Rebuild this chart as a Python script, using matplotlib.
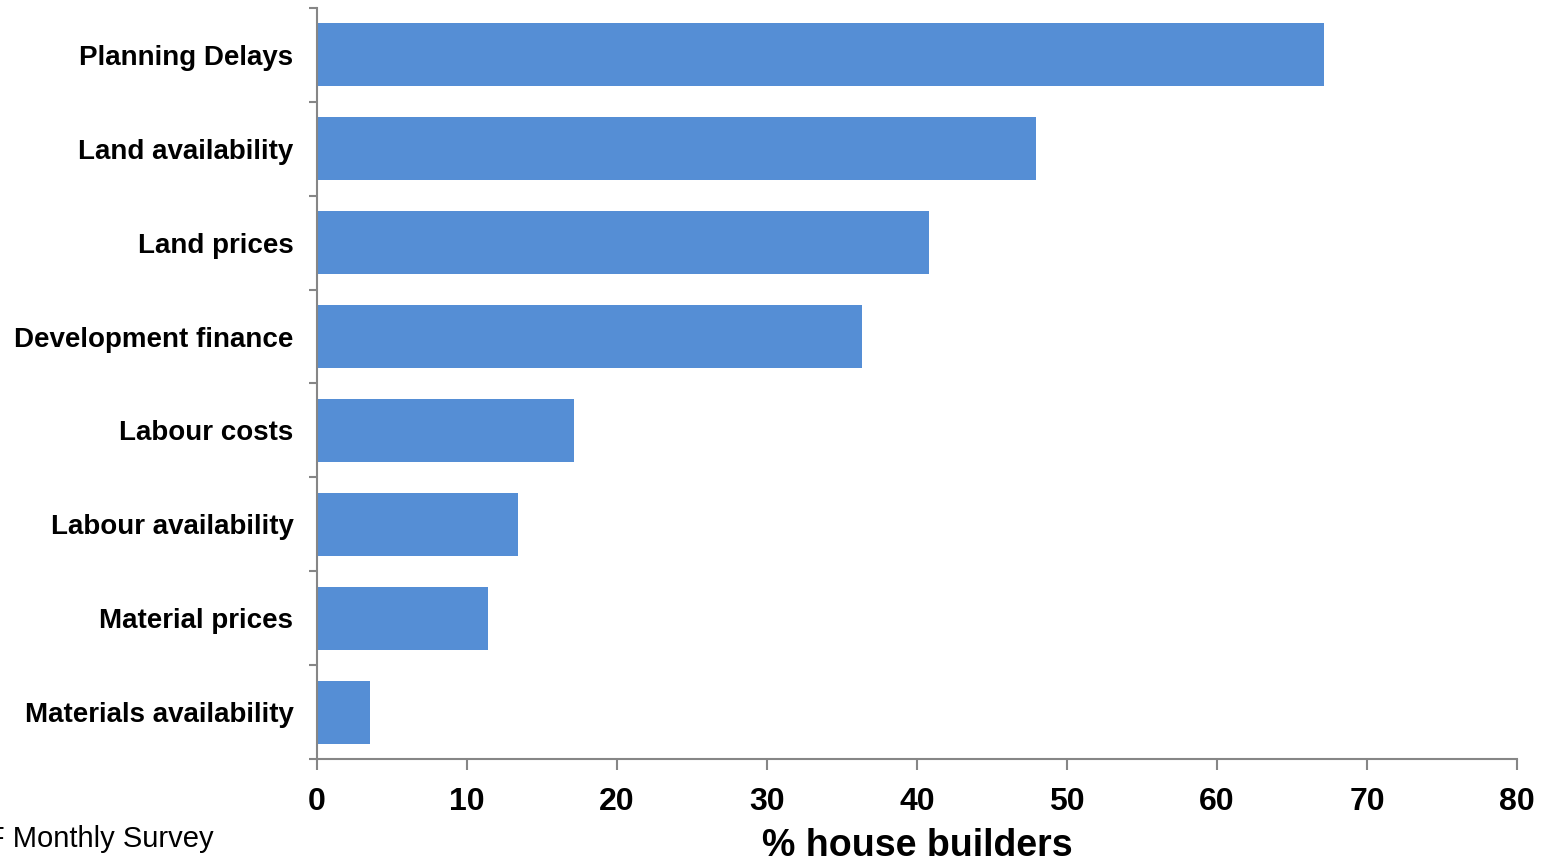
import matplotlib.pyplot as plt
import numpy as np

plt.rcParams['font.family'] = ['Liberation Sans', 'DejaVu Sans']

categories = ["Planning Delays", "Land availability", "Land prices", "Development finance",
              "Labour costs", "Labour availability", "Material prices", "Materials availability"]
share = [67.1, 47.9, 40.8, 36.3, 17.1, 13.4, 11.4, 3.5]

bar_colour = "#558ED5"
axis_grey = "#868686"

fig = plt.figure(figsize=(15.54, 8.63), dpi=100)
ax = fig.add_axes([317 / 1554, 1 - 759 / 863, 1200 / 1554, 751 / 863])

pos = np.arange(len(categories))
ax.barh(pos, share, height=0.67, color=bar_colour)
ax.set_ylim(len(categories) - 0.5, -0.5)
ax.set_xlim(0, 80)

ax.set_xticks(np.arange(0, 81, 10))
ax.set_yticks(np.arange(len(categories) + 1) - 0.5, minor=True)
ax.set_yticks(pos)
ax.set_yticklabels(categories, fontsize=20, fontweight='bold')
ax.tick_params(axis='y', which='major', length=0, pad=17)
ax.tick_params(axis='y', which='minor', length=6, color=axis_grey, width=1.5)
ax.tick_params(axis='x', length=8, color=axis_grey, width=1.5, labelsize=23, pad=12)
for lbl in ax.get_xticklabels():
    lbl.set_fontweight('bold')

for side in ['top', 'right']:
    ax.spines[side].set_visible(False)
for side in ['left', 'bottom']:
    ax.spines[side].set_color(axis_grey)
    ax.spines[side].set_linewidth(1.5)

ax.set_xlabel("% house builders", fontsize=27, fontweight='bold', labelpad=8)

fig.text(214 / 1554, 1 - 839 / 863, "Source: HBF Monthly Survey", fontsize=21,
         ha='right', va='center')

plt.savefig("out.png", dpi=100)
